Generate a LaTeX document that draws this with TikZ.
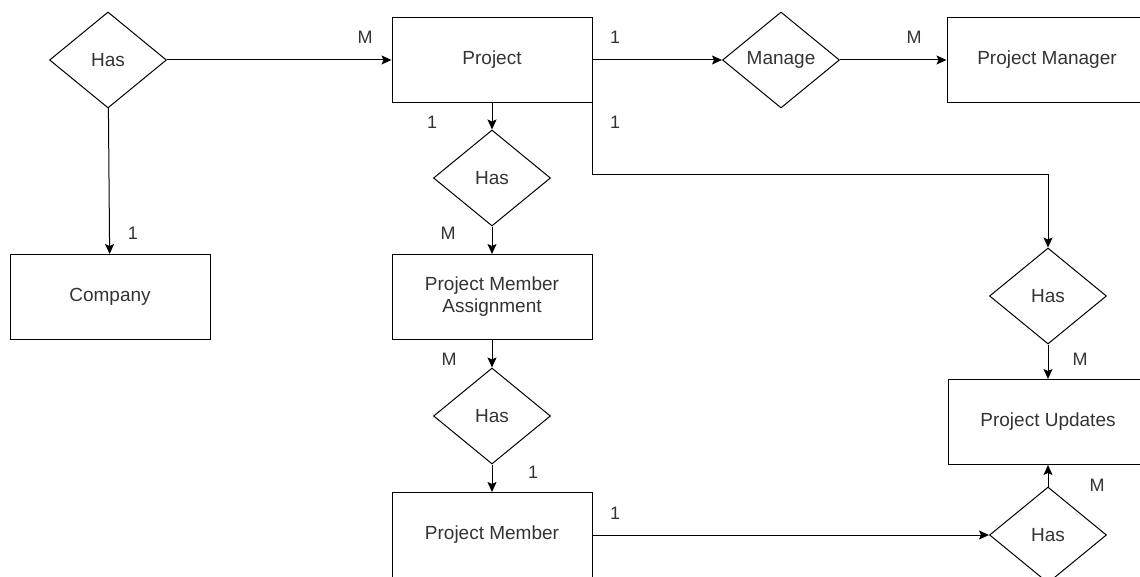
\documentclass[tikz,border=0pt]{standalone}
\usepackage{fontspec}
\setmainfont{Liberation Sans}
\usetikzlibrary{shapes.geometric,arrows.meta,positioning}

\tikzset{
  entity/.style={draw, rectangle, minimum width=200pt, minimum height=85pt,
    align=center, text=black!80, font=\fontsize{19}{22}\selectfont},
  relation/.style={draw, diamond, minimum width=117pt, minimum height=96pt,
    inner sep=0pt, text=black!80, font=\fontsize{19}{22}\selectfont},
  card/.style={text=black!80, font=\fontsize{18}{20}\selectfont},
  link/.style={-{Stealth[length=10pt,width=9pt,inset=2pt]}}
}

\begin{document}
\begin{tikzpicture}[x=1pt, y=-1pt, line width=1pt]
  \useasboundingbox (0,0) rectangle (1140,577);

  % entities
  \node[entity] (project) at (492,60) {Project};
  \node[entity] (manager) at (1047,60) {Project Manager};
  \node[entity] (company) at (110,297) {Company};
  \node[entity] (assign) at (492,297) {Project Member\\Assignment};
  \node[entity] (member) at (492,535) {Project Member};
  \node[entity] (updates) at (1048,422) {Project Updates};

  % relations
  \node[relation] (hascompany) at (108,60) {Has};
  \node[relation] (manage) at (781,60) {Manage};
  \node[relation] (hasassign) at (492,178) {Has};
  \node[relation] (hasmember) at (492,416) {Has};
  \node[relation] (hasupdates) at (1048,296) {Has};
  \node[relation] (hasposts) at (1048,535) {Has};

  % connectors
  \draw[link] (hascompany) -- (project);
  \draw[link] (hascompany) -- (company);
  \draw[link] (project.east) -- (manage);
  \draw[link] (manage) -- (manager);
  \draw[link] (project) -- (hasassign);
  \draw[link] (hasassign) -- (assign);
  \draw[link] (assign) -- (hasmember);
  \draw[link] (hasmember) -- (member);
  \coordinate (bend) at ([yshift=-72pt]project.south east);
  \draw[link] (project.south east) -- (bend) -| (hasupdates.north);
  \draw[link] (hasupdates) -- (updates);
  \draw[link] (member) -- (hasposts);
  \draw[link] (hasposts) -- (updates);

  % cardinalities
  \node[card] (cM1) at (365,37) {M};
  \node[card] (c11) at (615,37) {1};
  \node[card] (cM2) at (914,37) {M};
  \node[card] (c12) at (432,122) {1};
  \node[card] (c13) at (615,122) {1};
  \node[card] (cM3) at (448,233) {M};
  \node[card] (c14) at (133,233) {1};
  \node[card] (cM4) at (449,359) {M};
  \node[card] (cM5) at (1080,359) {M};
  \node[card] (c15) at (533,472) {1};
  \node[card] (c16) at (615,513) {1};
  \node[card] (cM6) at (1097,485) {M};
\end{tikzpicture}
\end{document}
